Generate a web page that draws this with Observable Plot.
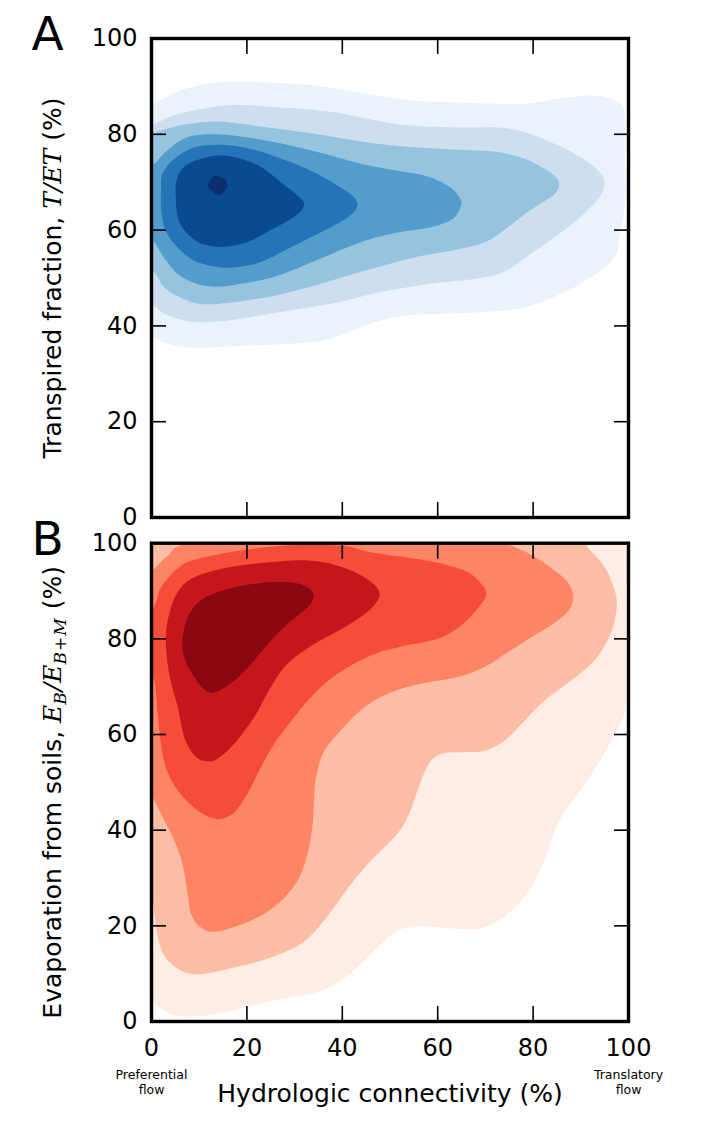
<!DOCTYPE html>
<html><head><meta charset="utf-8">
<script src="https://cdn.jsdelivr.net/npm/d3@7"></script>
<script src="https://cdn.jsdelivr.net/npm/@observablehq/plot@0.6"></script>
<style>
html,body{margin:0;padding:0;background:#fff}
#chart{width:704px}
#chart svg{display:block}
</style></head><body><div id="chart"></div>
<script>
const xTicks=[0,20,40,60,80,100], yTicks=[0,20,40,60,80,100];
const blueColors=["#eaf2fb","#cddef0","#96c4de","#539dcd","#2574b8","#0a4a90","#083070"];
const redColors=["#feede5","#fcbda5","#fd8566","#f54d37","#c4161c","#8a0811"];

const blue1=[[0.2,86.3],[6.2,89.2],[13.8,90.8],[23.6,90.8],[34.1,90.2],[44.6,88.5],[55.1,87],[65.6,86.6],[78.2,86.4],[85.2,87.4],[92.2,88.1],[97.1,87.1],[99.2,84.3],[99.3,73.9],[99.3,65.5],[98.1,58.6],[97.1,54.4],[92.2,50.2],[85.2,46.4],[76.8,43.6],[65.6,42.7],[53.7,42.2],[46,40.5],[37.6,37.3],[30.6,36.4],[20.1,35.9],[9,35.4],[3.4,36.3],[0.2,37.7],[-5,39],[-5,85]];
const blue2=[[0.2,81.9],[4.8,84],[11,85.4],[18,86.1],[27.1,85.6],[37.6,84.7],[46,83.1],[53.7,81.9],[65.6,81.4],[72.6,81.4],[78.2,80.5],[85.2,77.7],[91,74.6],[94,72],[95,69.8],[94,67],[91.5,64.2],[86.6,60],[79.6,55.1],[74,51.3],[68.4,49.9],[58.6,48.8],[48.1,47.1],[37.6,44.6],[27.1,42.9],[16.6,41.2],[9,40.8],[3.4,42.2],[0.2,44.3],[-5,47],[-5,79]];
const blue3=[[0.2,80.1],[4.8,81.6],[9.7,82.4],[15.2,82.6],[23.6,81.5],[34.1,80.1],[44.6,78.4],[53.7,77.4],[65.6,76.7],[72.6,76.3],[78.2,74.9],[82,73],[84.6,71.2],[85.5,69.5],[84.6,67.6],[82,65.8],[78.5,63.5],[74.7,60.6],[69.8,57.4],[62.8,55.7],[55.1,54.3],[44.6,51.5],[34.1,48.4],[23.6,45.9],[11.7,44.5],[6.2,45.9],[2.7,48],[0.2,51.6],[-5,55],[-5,77]];
const blue4=[[0.2,73.5],[3.4,76.7],[6.9,79.1],[10.4,79.9],[16.6,79.8],[25.7,78.4],[34.8,76.3],[44.6,73.7],[51.6,72.4],[57.2,71.4],[62.1,69.3],[64.5,66.9],[64.9,65.1],[63.1,62.3],[58.6,60.6],[51.6,59.5],[44.6,57.7],[34.1,53.5],[27.1,50.7],[20.1,49],[12.4,48.2],[6.2,50.3],[2.7,54.1],[0.2,57.9],[-5,61],[-5,70]];
const blue5=[[2,68.3],[2.3,71.8],[4.8,74.9],[9,77.3],[14.6,77.8],[21.5,76.8],[29.2,74.2],[35,71.6],[39,69.3],[42,67.3],[43.2,65.3],[41.8,63.2],[38,60.8],[30.6,57.1],[23.6,53.6],[19.4,52.5],[14.6,52.2],[9,53.6],[4.8,57.1],[2.7,60.6],[2,64.7]];
const blue6=[[5.1,69.7],[6.2,72.5],[8.9,74.4],[13.8,75.6],[18,75.1],[22.9,73.2],[27.1,70],[30.4,67.4],[32,65.4],[30.2,63],[25,60],[20.1,57.5],[15.2,56.5],[10.4,57.2],[7.2,59.6],[5.5,62.7],[5.1,66.9]];
const blue7=[[11.9,69.7],[12.8,71.1],[14,71.3],[15.6,70.4],[15.8,69],[14.6,67.4],[13.5,67.6],[12.1,68.7]];

const red1=[[99.5,75],[99.3,65],[96.7,59.4],[93.6,53.8],[89.4,47.6],[85.9,42.7],[83.8,37.8],[81.7,32.2],[78.9,27],[74.7,22.5],[69.8,19.7],[65.6,19.3],[58.6,19.8],[54.4,19.8],[50.9,18.6],[46.7,14.8],[41.1,9.6],[35.5,6.4],[27.1,4.7],[19.4,2.9],[13.1,1.5],[8.3,1],[4.1,1.5],[0.2,4],[-5,8],[-5,106],[50,106],[99.5,106],[99.5,90]];
const red2=[[70,103],[88,101.5],[92,98.5],[95.3,94.5],[97.4,89],[97.3,85],[96,80.5],[92.9,75.5],[88,71.3],[82.4,67.1],[78.2,62.9],[74,58.7],[69.8,56.6],[65.6,56.3],[61.4,56.1],[58.6,54.5],[56.5,50.3],[53.7,42.7],[50.9,38.5],[46,33.6],[41.8,28.7],[36.2,21.1],[31.3,16.2],[25,13.4],[18.7,11.6],[10.3,9.9],[6.2,10.6],[2.7,13.7],[1.2,18.3],[0.2,25.9],[-1,33],[-5,40],[-5,106]];
const red3=[[0.2,94.3],[3.4,97.4],[8.3,100],[30,101],[50,101],[71,100.2],[78.2,98.3],[84.5,94.3],[87.5,91.5],[88.4,88.5],[87.3,85.7],[84,83],[79.6,80.3],[74.7,77.2],[69.8,74.1],[64.2,72],[56.5,70.6],[50.2,68.8],[44.6,65.7],[39,60.1],[35.9,55.9],[34.5,51],[34.1,46.9],[33.8,41.3],[32.7,35],[30.6,29.4],[26.4,24.5],[21.5,21.4],[13.8,18.8],[10.3,19.7],[8.3,22.5],[7.6,26.6],[6.5,32.9],[4.8,37.8],[2.7,42],[0.6,46.2],[-1,49.5],[-5,55],[-5,90]];
const red4=[[0.2,86.3],[2,90.8],[6.2,95.3],[11.7,97.2],[20.1,98.7],[30.6,99.6],[40.4,99.4],[46,98.1],[58.6,96.2],[65.6,94.3],[68.7,92],[70.2,89.5],[68.8,86.8],[64.9,82.8],[60,80],[51.6,78.2],[46,76.5],[39,72.7],[34.1,68.5],[29.9,63.6],[25.7,58],[22.9,53.1],[20.1,47.6],[17.3,43.7],[13.8,42.3],[9.7,44.1],[5.5,48.3],[3,53.1],[2,58],[1.3,64.3],[0.6,71.3],[-1,75],[-6,80]];
const red5=[[3,80.3],[4.1,86.6],[6.2,90.8],[9.7,93.2],[16.6,95],[23.6,95.9],[32.7,96.4],[39,95.3],[44.6,92.9],[47.8,89.7],[46,86.3],[41.1,82.8],[34.1,78.9],[28.5,74.8],[25,69.9],[21.5,63.6],[17.3,58],[13.8,54.9],[11.4,54.4],[9,55.6],[6.9,59.4],[5.5,65.7],[3.7,72.7]];
const red6=[[6.5,79.6],[7.6,84.5],[10.3,88],[15.2,90.2],[22.2,91.6],[29.2,91.8],[32.7,90.8],[34,89],[32.7,86.6],[28.5,83.1],[25,79.6],[20.8,74.7],[17.3,71.2],[13.1,68.8],[10.7,69.8],[8.2,73.3],[6.9,76.1]];

const blueLevels=[blue1,blue2,blue3,blue4,blue5,blue6,blue7];
const redLevels=[red1,red2,red3,red4,red5,red6];

const FONT="'DejaVu Sans', sans-serif";
const labelA="Transpired fraction, T/ET (%)";
const labelB="Evaporation from soils, EB/EB+M (%)";
const xLabel="Hydrologic connectivity (%)";

function panel(levels,colors,opts){
  const marks=levels.map((pts,i)=>Plot.line(pts,{x:d=>d[0],y:d=>d[1],curve:"cardinal-closed",fill:colors[i],stroke:"none",clip:true}));
  marks.push(
    Plot.axisY({anchor:"left",ticks:yTicks,tickSize:-15,tickPadding:29,fontSize:24,label:null,strokeWidth:1.6,fontFamily:FONT,fill:"#000"}),
    Plot.axisY({anchor:"right",ticks:yTicks,tickSize:-15,tickFormat:()=>"",label:null,strokeWidth:1.6}),
    Plot.axisX({anchor:"top",ticks:xTicks,tickSize:-15,tickFormat:()=>"",label:null,strokeWidth:1.6}),
    Plot.axisX(opts.xLabels?{anchor:"bottom",ticks:xTicks,tickSize:-15,tickPadding:32,fontSize:24,label:null,strokeWidth:1.6,fontFamily:FONT,fill:"#000"}
                           :{anchor:"bottom",ticks:xTicks,tickSize:-15,tickFormat:()=>"",label:null,strokeWidth:1.6}),
    Plot.frame({stroke:"#000",strokeWidth:3.4}),
    Plot.text([opts.letter],{text:d=>d,frameAnchor:"top-left",dx:-120,dy:opts.letterDy,fontSize:47,fontFamily:FONT,fill:"#000",textAnchor:"start"}),
    Plot.text([opts.ylabel],{text:d=>d,frameAnchor:"left",dx:-99,dy:opts.ylabelDy,rotate:-90,textAnchor:"middle",fontSize:opts.ylabelSize,fontFamily:FONT,fill:"#000"})
  );
  if(opts.xLabels) marks.push(
    Plot.text([xLabel],{text:d=>d,frameAnchor:"bottom",dx:0,dy:80,fontSize:25,fontFamily:FONT,fill:"#000"}),
    Plot.text(["Preferential\nflow"],{text:d=>d,frameAnchor:"bottom-left",textAnchor:"middle",dy:72,fontSize:12.5,fontFamily:FONT,fill:"#000",lineHeight:1.2}),
    Plot.text(["Translatory\nflow"],{text:d=>d,frameAnchor:"bottom-right",textAnchor:"middle",dy:72,fontSize:12.5,fontFamily:FONT,fill:"#000",lineHeight:1.2})
  );
  return Plot.plot({width:704,height:opts.height,marginLeft:151,marginRight:76,marginTop:opts.mt,marginBottom:opts.mb,
    x:{domain:[0,100],axis:null},y:{domain:[0,100],axis:null},style:{background:"transparent",fontFamily:FONT,overflow:"visible"},marks});
}
const A=panel(blueLevels,blueColors,{letter:"A",letterDy:-22,ylabel:labelA,ylabelDy:0,ylabelSize:25,height:530,mt:38,mb:13});
const B=panel(redLevels,redColors,{letter:"B",letterDy:-22,ylabel:labelB,ylabelDy:10,ylabelSize:25,height:606,mt:12.7,mb:115,xLabels:true});
function math(svg,label,html){
  d3.select(svg).selectAll("text").filter(function(){return this.textContent===label;}).html(html);
}
const MI="font-family:'DejaVu Serif';font-style:italic";
math(A,labelA,`Transpired fraction, <tspan style="${MI}">T/ET</tspan> (%)`);
math(B,labelB,`Evaporation from soils, <tspan style="${MI}">E</tspan><tspan style="${MI};font-size:17px" dy="5">B</tspan><tspan style="${MI}" dy="-5" dx="1">/E</tspan><tspan style="${MI};font-size:17px;letter-spacing:1px" dy="5">B+M</tspan><tspan dy="-5"> (%)</tspan>`);
document.getElementById("chart").append(A,B);
</script></body></html>
